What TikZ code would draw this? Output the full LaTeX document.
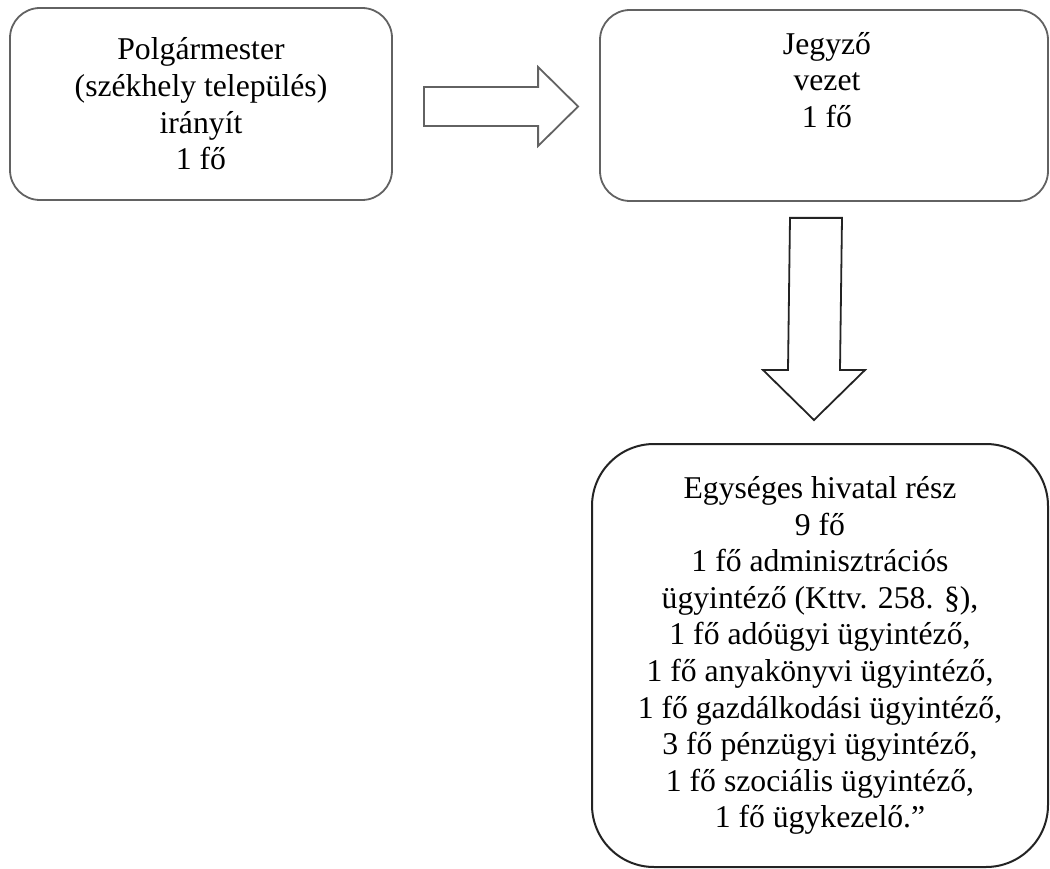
\documentclass[tikz,border=0pt]{standalone}
\usepackage{fontspec}
\setmainfont{Liberation Serif}
\usetikzlibrary{calc}

\definecolor{boxgrey}{RGB}{98,98,98}
\definecolor{inkdark}{RGB}{35,35,35}

\begin{document}
\begin{tikzpicture}[x=1pt,y=-1pt,
  box/.style={draw=boxgrey, line width=1.8pt, rounded corners=30pt, inner sep=0pt, align=center},
  bigbox/.style={draw=inkdark, line width=2pt, rounded corners=62pt, inner sep=0pt, align=center},
  boxtext/.style={inner sep=0pt, align=center},
  blockarrow/.style={line width=1.8pt, line join=miter}]
\useasboundingbox (0,0) rectangle (1050,869);
\tikzset{every node/.style={font=\fontsize{31.7}{36.6}\selectfont}}
\node[box, minimum width=382pt, minimum height=192pt] (polg) at (201,104) {Polgármester\\(székhely település)\\irányít\\1 fő};
\node[box, minimum width=448pt, minimum height=191pt] (jegyzo) at (824,105.5) {};
\node[boxtext, anchor=north] (jegyzotext) at ($(jegyzo.north)+(3,23)$) {Jegyző\\vezet\\1 fő};
\node[bigbox, minimum width=456pt, minimum height=423pt] (hivatal) at (820,655.5) {Egységes hivatal rész\\9 fő\\1 fő adminisztrációs\\ügyintéző (Kttv. 258. §),\\1 fő adóügyi ügyintéző,\\1 fő anyakönyvi ügyintéző,\\1 fő gazdálkodási ügyintéző,\\3 fő pénzügyi ügyintéző,\\1 fő szociális ügyintéző,\\1 fő ügykezelő.”};
% block arrows
\coordinate (rtail) at ($(polg.east)+(31,2.5)$);
\coordinate (rtip) at ($(jegyzo.west)+(-21,1)$);
\draw[blockarrow, draw=boxgrey] ($(rtail)+(0,-19.5)$) -- ($(rtip)+(-40,-19.5)$) -- ($(rtip)+(-40,-39.5)$) -- (rtip)
  -- ($(rtip)+(-40,39.5)$) -- ($(rtip)+(-40,19.5)$) -- ($(rtail)+(0,19.5)$) -- cycle;
\coordinate (dtail) at ($(jegyzo.south)+(-8,16)$);
\coordinate (dtip) at ($(hivatal.north)+(-6,-23)$);
\draw[blockarrow, draw=inkdark] ($(dtail)+(-26,0)$) -- ($(dtip)+(-26,-50)$) -- ($(dtip)+(-51,-50)$) -- (dtip)
  -- ($(dtip)+(51,-50)$) -- ($(dtip)+(26,-50)$) -- ($(dtail)+(26,0)$) -- cycle;
\end{tikzpicture}
\end{document}
